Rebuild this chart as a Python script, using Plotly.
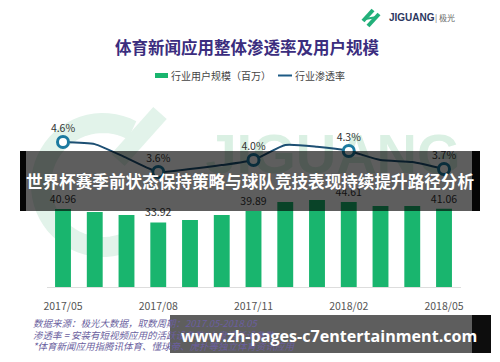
import numpy as np
import plotly.graph_objects as go

# ---------------- data ----------------
months = ["2017/05", "2017/06", "2017/07", "2017/08", "2017/09", "2017/10", "2017/11",
          "2017/12", "2018/01", "2018/02", "2018/03", "2018/04", "2018/05"]
users = [40.96, 39.4, 37.8, 33.92, 35.2, 37.8, 39.89, 44.6, 45.7, 44.61, 42.5, 42.5, 41.06]
penetration = [4.6, 4.53, 4.07, 3.6, 3.7, 3.83, 4.0, 4.5, 4.44, 4.3, 4.0, 3.93, 3.7]
labeled_idx = [0, 3, 6, 9, 12]
tick_labels = ["2017/05", "2017/08", "2017/11", "2018/02", "2018/05"]

title = "体育新闻应用整体渗透率及用户规模"
legend_bar = "行业用户规模（百万）"
legend_line = "行业渗透率"
banner_text = "世界杯赛季前状态保持策略与球队竞技表现持续提升路径分析"
url_text = "www.zh-pages-c7entertainment.com"
notes = ["数据来源：极光大数据，取数周期：2017.05-2018.05",
         "渗透率 = 安装有短视频应用的活跃设备数/大盘活跃设备数",
         "*体育新闻应用指腾讯体育、懂球帝、虎扑等独立体育资讯应用"]

# ---------------- layout geometry ----------------
W, H = 500, 362
L, R, T, B = 47, 39, 110, 75
PW, PH = W - L - R, H - T - B
FONT = "Noto Sans CJK SC"


def px(x):
    return (x - L) / PW


def py(y):
    return (H - B - y) / PH


bar_text = [f"{v:.2f}" if i in labeled_idx else "" for i, v in enumerate(users)]

fig = go.Figure()

fig.add_trace(go.Bar(
    x=months, y=users, width=0.5, marker_color="#19b56e", marker_line_width=0,
    text=bar_text, textposition="outside", cliponaxis=False, constraintext="none",
    textfont=dict(family=FONT, size=10.5, color="#333333"), showlegend=False,
    hoverinfo="skip"))

fig.add_trace(go.Scatter(
    x=months, y=penetration, yaxis="y2", mode="lines",
    line=dict(color="#1d4f73", width=2, shape="spline", smoothing=0.5),
    showlegend=False, hoverinfo="skip"))

fig.add_trace(go.Scatter(
    x=[months[i] for i in labeled_idx], y=[penetration[i] for i in labeled_idx],
    yaxis="y2", mode="markers+text",
    marker=dict(size=11, color="white", line=dict(color="#1c7aa0", width=3)),
    text=[f"{penetration[i]:.1f}%" for i in labeled_idx], textposition="top center",
    textfont=dict(family=FONT, size=10.5, color="#333333"), cliponaxis=False,
    showlegend=False, hoverinfo="skip"))

shapes = []
annotations = []

# watermark G arc
ang = np.linspace(np.deg2rad(62), np.deg2rad(290), 40)
cx, cy, rr = 103, 185, 62
pts = [(cx + rr * np.cos(a), cy - rr * np.sin(a)) for a in ang]
path = "M " + " L ".join(f"{px(x):.4f},{py(y):.4f}" for x, y in pts)
shapes.append(dict(type="path", path=path, xref="paper", yref="paper", layer="below",
                   line=dict(color="#e2f3ea", width=20)))
shapes.append(dict(type="line", xref="paper", yref="paper", layer="below",
                   x0=px(160), y0=py(113), x1=px(118), y1=py(160),
                   line=dict(color="#e2f3ea", width=18)))
# watermark letters
shapes.append(dict(type="rect", xref="paper", yref="paper", layer="below",
                   x0=px(200), x1=px(466), y0=py(180), y1=py(116),
                   line=dict(width=0), fillcolor="rgba(0,0,0,0)",
                   label=dict(text="<b>JIGUANG</b>", textposition="middle center",
                              font=dict(family="Liberation Sans", size=56, color="#daf0e3"))))

# legend
shapes.append(dict(type="rect", xref="paper", yref="paper", x0=px(155), x1=px(168),
                   y0=py(78), y1=py(73), fillcolor="#19b56e", line=dict(width=0)))
shapes.append(dict(type="line", xref="paper", yref="paper", x0=px(278), x1=px(292),
                   y0=py(75.5), y1=py(75.5), line=dict(color="#1d5a85", width=2)))
annotations.append(dict(text=legend_bar, x=px(169), y=py(75.5), xref="paper", yref="paper",
                        xanchor="left", yanchor="middle", showarrow=False,
                        font=dict(family=FONT, size=10, color="#444444")))
annotations.append(dict(text=legend_line, x=px(293), y=py(75.5), xref="paper", yref="paper",
                        xanchor="left", yanchor="middle", showarrow=False,
                        font=dict(family=FONT, size=10, color="#444444")))

# title
annotations.append(dict(text=f"<b>{title}</b>", x=px(247), y=py(47.5), xref="paper", yref="paper",
                        xanchor="center", yanchor="middle", showarrow=False,
                        font=dict(family=FONT, size=16.5, color="#3b2d7e")))

# logo
shapes.append(dict(type="line", xref="paper", yref="paper", x0=px(363), y0=py(21), x1=px(373), y1=py(10),
                   line=dict(color="#22b07a", width=4)))
shapes.append(dict(type="line", xref="paper", yref="paper", x0=px(368), y0=py(26), x1=px(379), y1=py(14),
                   line=dict(color="#22b07a", width=4)))
shapes.append(dict(type="line", xref="paper", yref="paper", x0=px(365), y0=py(19), x1=px(377), y1=py(17),
                   line=dict(color="#22b07a", width=2)))
annotations.append(dict(text="<b>JIGUANG</b>", x=px(387), y=py(17), xref="paper", yref="paper",
                        xanchor="left", yanchor="middle", showarrow=False,
                        font=dict(family="Liberation Sans", size=10, color="#2b3660")))
annotations.append(dict(text="| 极光", x=px(433), y=py(17), xref="paper", yref="paper",
                        xanchor="left", yanchor="middle", showarrow=False,
                        font=dict(family=FONT, size=8, color="#666666")))

# footnotes
for yy, t in zip([323, 335, 346], notes):
    annotations.append(dict(text=f"<i>{t}</i>", x=px(31), y=py(yy), xref="paper", yref="paper",
                            xanchor="left", yanchor="middle", showarrow=False,
                            font=dict(family=FONT, size=9.5, color="#6b5fa0")))

# overlay banners
shapes.append(dict(type="rect", xref="paper", yref="paper", x0=px(20), x1=px(480),
                   y0=py(211), y1=py(151), fillcolor="rgba(0,0,0,0.63)", line=dict(width=0)))
shapes.append(dict(type="rect", xref="paper", yref="paper", x0=px(20), x1=px(26),
                   y0=py(211), y1=py(151), fillcolor="rgba(0,0,0,0.95)", line=dict(width=0)))
shapes.append(dict(type="rect", xref="paper", yref="paper", x0=px(472), x1=px(480),
                   y0=py(211), y1=py(151), fillcolor="rgba(0,0,0,0.95)", line=dict(width=0)))
annotations.append(dict(text=f"<b>{banner_text}</b>", x=px(250), y=py(181), xref="paper", yref="paper",
                        xanchor="center", yanchor="middle", showarrow=False,
                        font=dict(family=FONT, size=16.6, color="white")))

shapes.append(dict(type="rect", xref="paper", yref="paper", x0=px(170), x1=px(472),
                   y0=py(353), y1=py(315), fillcolor="rgba(0,0,0,0.63)", line=dict(width=0)))
shapes.append(dict(type="rect", xref="paper", yref="paper", x0=px(472), x1=px(491),
                   y0=py(353), y1=py(315), fillcolor="rgba(0,0,0,0.95)", line=dict(width=0)))
annotations.append(dict(text=f"<b>{url_text}</b>", x=px(329), y=py(336), xref="paper", yref="paper",
                        xanchor="center", yanchor="middle", showarrow=False,
                        font=dict(family="Open Sans", size=16.1, color="white")))

fig.update_layout(
    width=W, height=H, autosize=False,
    margin=dict(l=L, r=R, t=T, b=B, pad=0),
    paper_bgcolor="white", plot_bgcolor="white",
    showlegend=False, hovermode=False,
    xaxis=dict(type="category", categoryorder="array", categoryarray=months,
               range=[-0.504, 12.535], tickvals=tick_labels, ticktext=tick_labels,
               showgrid=False, zeroline=False, showline=True, linecolor="#dddddd", linewidth=1,
               ticks="outside", ticklen=9, tickcolor="rgba(0,0,0,0)",
               tickfont=dict(family=FONT, size=10.5, color="#555555")),
    yaxis=dict(range=[0, PH / 1.905], visible=False, showgrid=False, zeroline=False),
    yaxis2=dict(range=[3.6 - (H - B - 172) / 30, 3.6 + (172 - T) / 30], overlaying="y",
                visible=False, showgrid=False, zeroline=False),
    shapes=shapes, annotations=annotations,
)

fig.write_html("out.html", config={"displayModeBar": False, "staticPlot": True},
               post_script="document.body.style.margin='0';document.body.style.overflow='hidden';")
